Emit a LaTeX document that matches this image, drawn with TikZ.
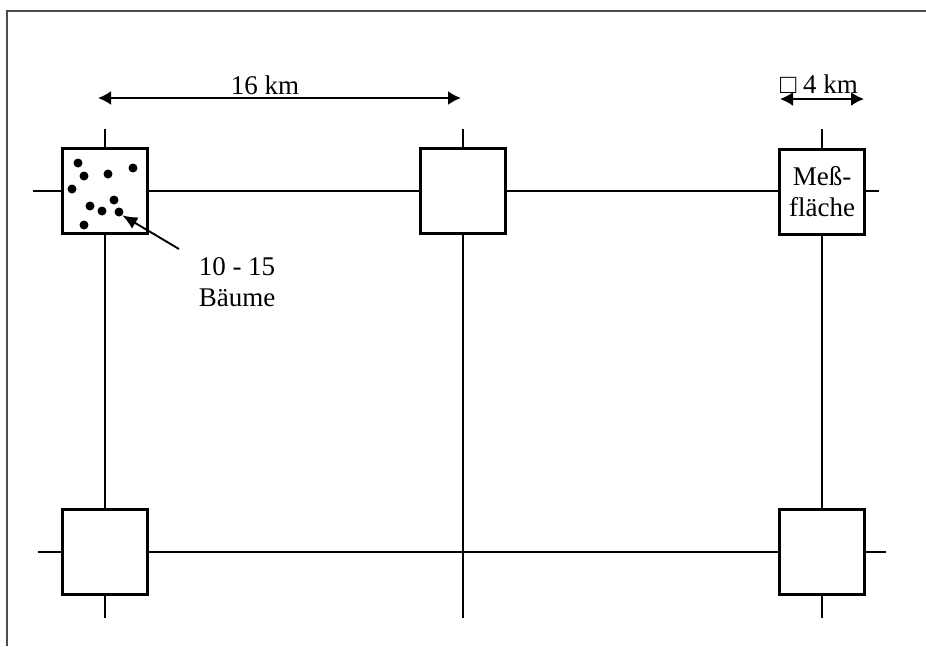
\documentclass[tikz,border=0pt]{standalone}
\usepackage{fontspec}
\setmainfont{Liberation Serif}
\usetikzlibrary{arrows.meta,calc,positioning}

\begin{document}
\begin{tikzpicture}[x=1pt, y=-1pt, >=Latex,
    plot/.style={draw, line width=2.4pt, fill=white, minimum size=85pt, inner sep=0pt},
    grid/.style={line width=2pt},
    tree/.style={circle, fill=black, inner sep=0pt, minimum size=9pt},
    label/.style={font=\fontsize{27}{31}\selectfont, align=center}]
    \useasboundingbox (0,0) rectangle (926,646);
    % page frame
    \draw[line width=1.3pt, black!70] (7,646) -- (7,11) -- (926,11);
    % grid lines
    \coordinate (v1a) at (105,129); \coordinate (v1b) at (105,618);
    \coordinate (v2a) at (463,129); \coordinate (v2b) at (463,618);
    \coordinate (v3a) at (822,129); \coordinate (v3b) at (822,618);
    \coordinate (h1a) at (33,191);  \coordinate (h1b) at (879,191);
    \coordinate (h2a) at (38,552);  \coordinate (h2b) at (886,552);
    \draw[grid] (v1a) -- (v1b);
    \draw[grid] (v2a) -- (v2b);
    \draw[grid] (v3a) -- (v3b);
    \draw[grid] (h1a) -- (h1b);
    \draw[grid] (h2a) -- (h2b);
    % plots
    \node[plot] (tl) at (105,191) {};
    \node[plot] (tm) at (463,191) {};
    \node[plot, label] (tr) at (822,192) {Meß-\\fläche};
    \node[plot] (bl) at (105,552) {};
    \node[plot] (br) at (822,552) {};
    % trees in the first plot
    \node[tree] (t1) at (78,163) {};
    \node[tree] (t2) at (84,176) {};
    \node[tree] (t3) at (108,174) {};
    \node[tree] (t4) at (133,168) {};
    \node[tree] (t5) at (72,189) {};
    \node[tree] (t6) at (114,200) {};
    \node[tree] (t7) at (90,206) {};
    \node[tree] (t8) at (102,211) {};
    \node[tree] (t9) at (119,212) {};
    \node[tree] (t10) at (84,225) {};
    \node[label] (trees) at (237,282) {10 - 15\\Bäume};
    \coordinate (treetail) at (179,249);
    \draw[line width=1.9pt, -{Latex[length=15pt, width=13pt]}] (treetail) -- (t9.south east);
    % distances
    \coordinate (d1a) at (98,98);  \coordinate (d1b) at (461,98);
    \coordinate (d2a) at (780,99); \coordinate (d2b) at (864,99);
    \draw[line width=1.9pt, {Latex[length=13pt, width=14pt]}-{Latex[length=13pt, width=14pt]}] (d1a) -- (d1b);
    \draw[line width=1.9pt, {Latex[length=13pt, width=14pt]}-{Latex[length=13pt, width=14pt]}] (d2a) -- (d2b);
    \node[label, anchor=base] (dist1) at (265,94) {16 km};
    \node[label, anchor=base] (dist2) at (819,93) {□ 4 km};
\end{tikzpicture}
\end{document}
